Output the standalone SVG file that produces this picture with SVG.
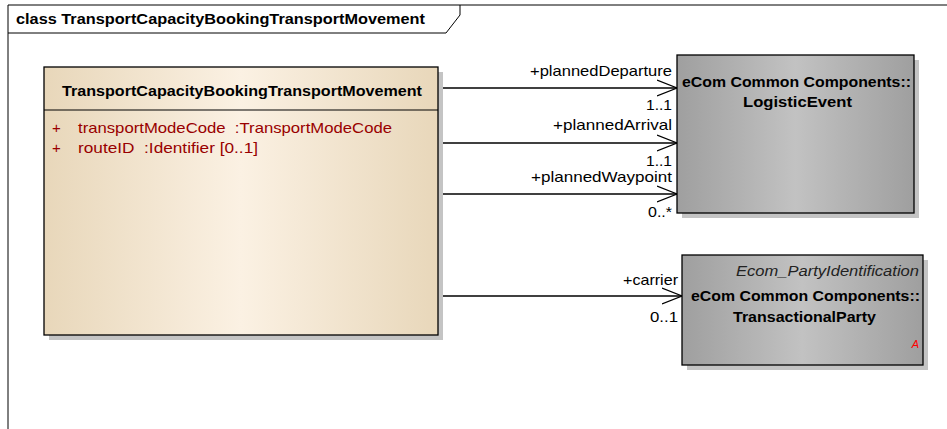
<svg xmlns="http://www.w3.org/2000/svg" width="947" height="429" viewBox="0 0 947 429">
<style>
text{font-family:"Liberation Sans",Arial,sans-serif;}
.b{font-weight:bold;fill:#000;}
.lbl{font-size:14.5px;fill:#000;}
.attr{font-size:15px;fill:#990000;white-space:pre;}
.edge{stroke:#000;stroke-width:1.3;fill:none;}
.shadow{fill:#c4c4c4;}
</style>
<defs>
<linearGradient id="beige" x1="0" y1="0" x2="1" y2="0">
<stop offset="0" stop-color="#e8d7ba"/>
<stop offset="0.5" stop-color="#fbf1e3"/>
<stop offset="1" stop-color="#e8d7ba"/>
</linearGradient>
<linearGradient id="gray" x1="0" y1="0" x2="1" y2="0">
<stop offset="0" stop-color="#9f9f9f"/>
<stop offset="0.5" stop-color="#c2c2c2"/>
<stop offset="1" stop-color="#9f9f9f"/>
</linearGradient>
<marker id="open" markerWidth="22" markerHeight="20" refX="20" refY="9" orient="auto" markerUnits="userSpaceOnUse">
<path d="M0,1 L20,9 L0,17" fill="none" stroke="#000" stroke-width="1.3"/>
</marker>
</defs>
<rect width="947" height="429" fill="#fff"/>
<g id="frame">
<path d="M8,429 V5 H947" fill="none" stroke="#000" stroke-width="1"/>
<path d="M8,33 H446 L460,15 V5" fill="none" stroke="#000" stroke-width="1"/>
<text x="16" y="24" class="b" font-size="15" textLength="409" lengthAdjust="spacingAndGlyphs">class TransportCapacityBookingTransportMovement</text>
</g>
<g id="connectors">
<line class="edge" x1="438" y1="88" x2="677" y2="88" marker-end="url(#open)"/>
<line class="edge" x1="438" y1="143" x2="677" y2="143" marker-end="url(#open)"/>
<line class="edge" x1="438" y1="194" x2="677" y2="194" marker-end="url(#open)"/>
<line class="edge" x1="438" y1="296" x2="682" y2="296" marker-end="url(#open)"/>
<text class="lbl" x="530" y="76" textLength="142" lengthAdjust="spacingAndGlyphs">+plannedDeparture</text>
<text class="lbl" x="646" y="110" textLength="26" lengthAdjust="spacingAndGlyphs">1..1</text>
<text class="lbl" x="553" y="130" textLength="119" lengthAdjust="spacingAndGlyphs">+plannedArrival</text>
<text class="lbl" x="646" y="166" textLength="26" lengthAdjust="spacingAndGlyphs">1..1</text>
<text class="lbl" x="531" y="182" textLength="141" lengthAdjust="spacingAndGlyphs">+plannedWaypoint</text>
<text class="lbl" x="648" y="217" textLength="24" lengthAdjust="spacingAndGlyphs">0..*</text>
<text class="lbl" x="623" y="285" textLength="55" lengthAdjust="spacingAndGlyphs">+carrier</text>
<text class="lbl" x="650" y="322" textLength="28" lengthAdjust="spacingAndGlyphs">0..1</text>
</g>
<g id="TransportCapacityBookingTransportMovement">
<rect class="shadow" x="49" y="72" width="394" height="268"/>
<rect x="44" y="67" width="394" height="268" fill="url(#beige)" stroke="#000" stroke-width="1.3"/>
<line x1="44" y1="110" x2="438" y2="110" stroke="#000" stroke-width="1"/>
<text x="62" y="96" class="b" font-size="15" textLength="360" lengthAdjust="spacingAndGlyphs">TransportCapacityBookingTransportMovement</text>
<text x="52" y="133" class="attr">+</text>
<text x="78" y="133" class="attr" textLength="314" lengthAdjust="spacingAndGlyphs" xml:space="preserve">transportModeCode  :TransportModeCode</text>
<text x="52" y="153" class="attr">+</text>
<text x="78" y="153" class="attr" textLength="180" lengthAdjust="spacingAndGlyphs" xml:space="preserve">routeID  :Identifier [0..1]</text>
</g>
<g id="LogisticEvent">
<rect class="shadow" x="682" y="60" width="237" height="158"/>
<rect x="677" y="55" width="237" height="158" fill="url(#gray)" stroke="#000" stroke-width="1.3"/>
<text x="682" y="87" class="b" font-size="15" textLength="229" lengthAdjust="spacingAndGlyphs">eCom Common Components::</text>
<text x="743" y="107" class="b" font-size="15" textLength="109" lengthAdjust="spacingAndGlyphs">LogisticEvent</text>
</g>
<g id="TransactionalParty">
<rect class="shadow" x="687" y="260" width="241" height="110"/>
<rect x="682" y="255" width="241" height="110" fill="url(#gray)" stroke="#000" stroke-width="1.3"/>
<text x="736" y="276" font-size="15" font-style="italic" fill="#222" textLength="183" lengthAdjust="spacingAndGlyphs">Ecom_PartyIdentification</text>
<text x="691" y="301" class="b" font-size="15" textLength="229" lengthAdjust="spacingAndGlyphs">eCom Common Components::</text>
<text x="733" y="322" class="b" font-size="15" textLength="143" lengthAdjust="spacingAndGlyphs">TransactionalParty</text>
<text x="919" y="348" font-size="11" font-style="italic" text-anchor="end" fill="#ff0000">A</text>
</g>
</svg>
